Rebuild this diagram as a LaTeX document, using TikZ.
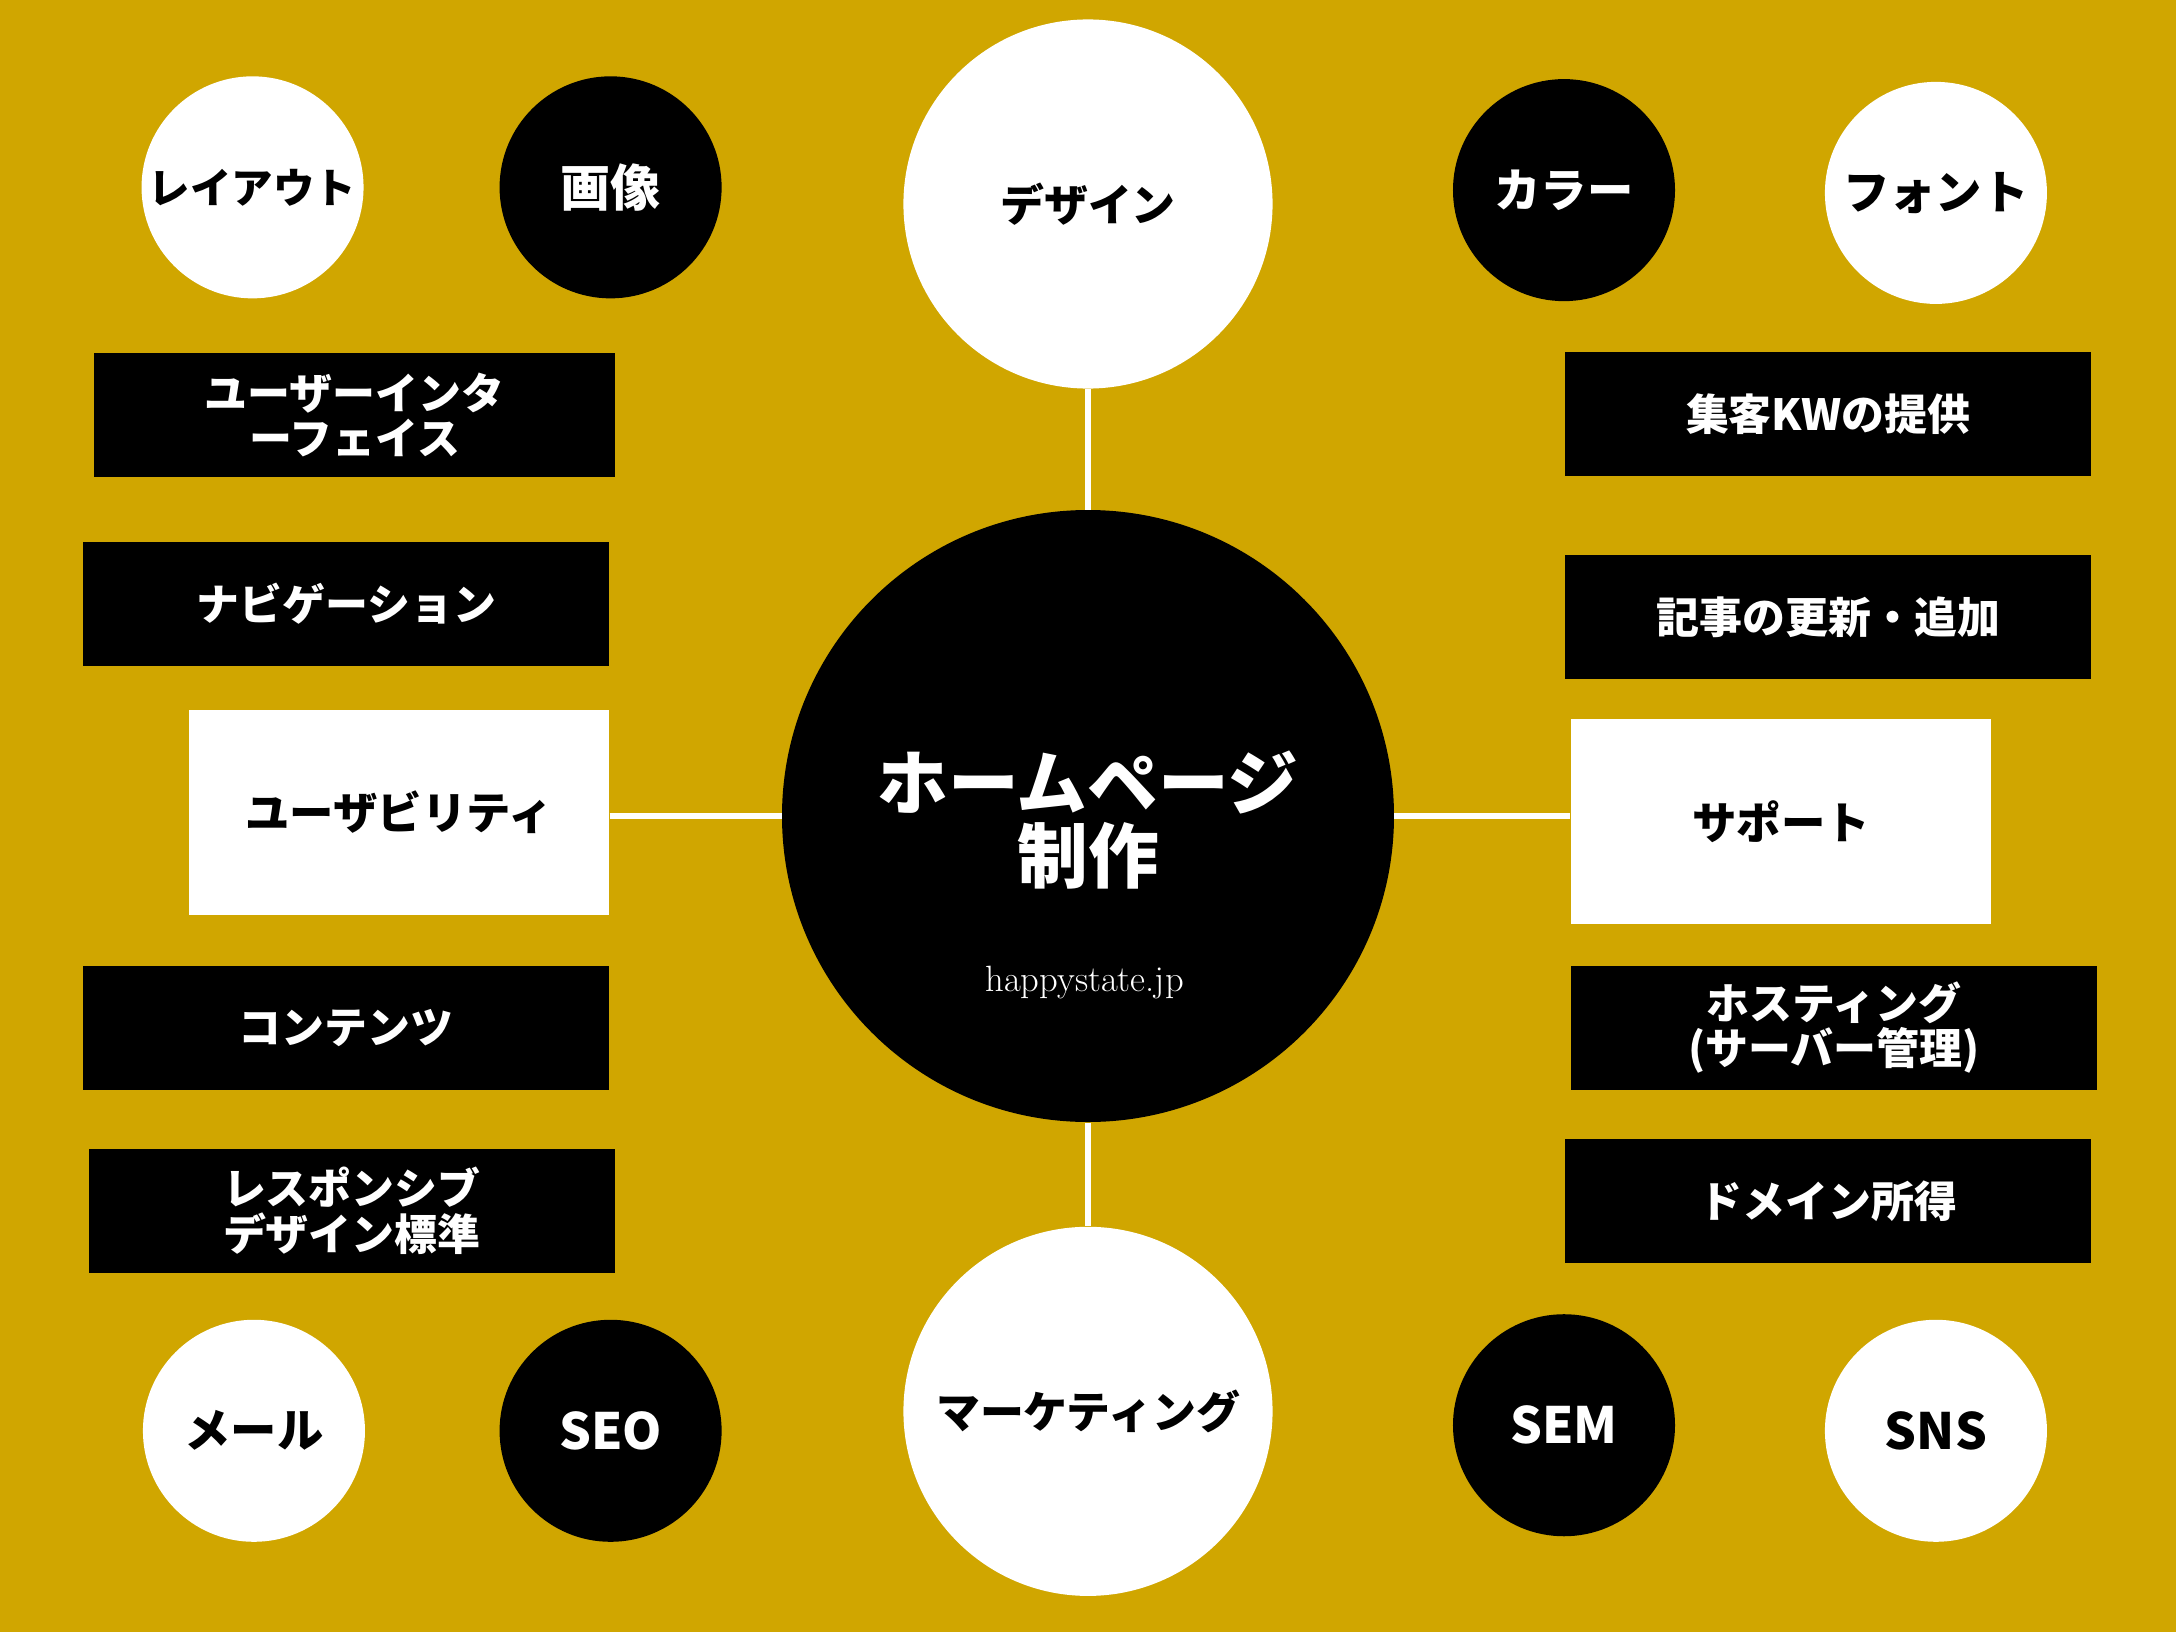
\documentclass[tikz,border=0pt]{standalone}
\usepackage{fontspec}
\usepackage{xcolor}
\usetikzlibrary{shapes.geometric, positioning, calc}
\newfontfamily\jpfont{Noto Sans CJK JP}
\definecolor{goldbg}{RGB}{208, 166, 0}

\begin{document}
\begin{tikzpicture}[
    smallcirc/.style={circle, minimum size=3.2cm, inner sep=0pt, font=\jpfont\bfseries\fontsize{19}{20}\selectfont},
    whitecirc/.style={smallcirc, fill=white, text=black},
    blackcirc/.style={smallcirc, fill=black, text=white},
    bigcirc/.style={circle, minimum size=5.32cm, inner sep=0pt, fill=white, text=black, font=\jpfont\bfseries\fontsize{18}{20}\selectfont},
    blackbox/.style={rectangle, minimum width=7.58cm, minimum height=1.79cm, inner sep=0pt, fill=black, text=white, align=center, font=\jpfont\bfseries\fontsize{17.6}{18.5}\selectfont},
    whitebox/.style={rectangle, minimum width=6.06cm, minimum height=2.95cm, inner sep=0pt, fill=white, text=black, align=center, font=\jpfont\bfseries\fontsize{18.2}{19}\selectfont},
    link/.style={draw=white, line width=2.3pt}
]
\fill[goldbg] (-15.68,-11.76) rectangle (15.68,11.76);

\node[circle, minimum size=8.82cm, inner sep=0pt, fill=black] (hp) at (0,0) {};
\node[text=white, align=center, font=\jpfont\bfseries\fontsize{29}{30}\selectfont] (title) at (0,-0.06) {ホームページ\\制作};
\node[text=white, font=\fontsize{15}{16}\selectfont] (url) at (-0.05,-2.4) {happystate.jp};

\node[whitecirc, font=\jpfont\bfseries\fontsize{17}{18}\selectfont] (layout) at (-12.04,9.06) {レイアウト};
\node[blackcirc, font=\jpfont\bfseries\fontsize{20.5}{22}\selectfont] (image) at (-6.88,9.06) {画像};
\node[bigcirc] (design) at (0,8.82) {デザイン};
\node[blackcirc] (color) at (6.86,9.02) {カラー};
\node[whitecirc] (fonts) at (12.22,8.98) {フォント};

\node[whitecirc] (mail) at (-12.02,-8.86) {メール};
\node[blackcirc, font=\jpfont\bfseries\fontsize{20.5}{22}\selectfont] (seo) at (-6.88,-8.86) {SEO};
\node[bigcirc] (marketing) at (0,-8.58) {マーケティング};
\node[blackcirc, font=\jpfont\bfseries\fontsize{20.5}{22}\selectfont] (sem) at (6.86,-8.78) {SEM};
\node[whitecirc, font=\jpfont\bfseries\fontsize{20.5}{22}\selectfont] (sns) at (12.22,-8.86) {SNS};

\node[blackbox, minimum width=7.5cm] (ui) at (-10.57,5.78) {ユーザーインタ\\ーフェイス};
\node[blackbox] (nav) at (-10.69,3.06) {ナビゲーション};
\node[whitebox] (usability) at (-9.93,0.05) {ユーザビリティ};
\node[blackbox] (contents) at (-10.69,-3.05) {コンテンツ};
\node[blackbox] (responsive) at (-10.61,-5.69) {レスポンシブ\\デザイン標準};

\node[blackbox] (keyword) at (10.67,5.79) {集客KWの提供};
\node[blackbox] (article) at (10.67,2.87) {記事の更新・追加};
\node[whitebox] (support) at (9.99,-0.08) {サポート};
\node[blackbox] (hosting) at (10.75,-3.05) {ホスティング\\(サーバー管理)};
\node[blackbox] (domain) at (10.67,-5.55) {ドメイン所得};

\draw[link] (design.south) -- (hp.north);
\draw[link] (hp.south) -- (marketing.north);
\draw[link] (usability.east |- hp.west) -- (hp.west);
\draw[link] (hp.east) -- (support.west |- hp.east);
\end{tikzpicture}
\end{document}
